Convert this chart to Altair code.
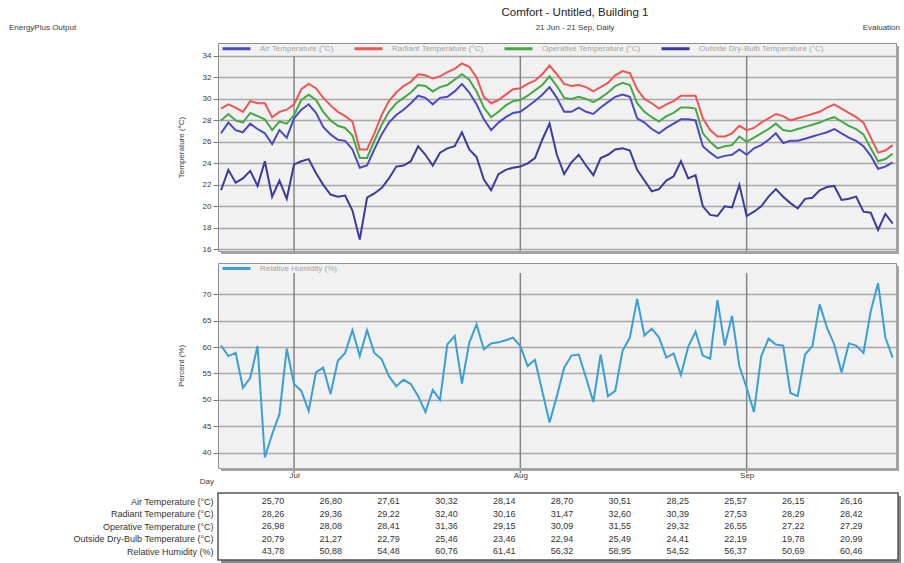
import altair as alt
import pandas as pd

# ---------------- data ----------------
dates = pd.date_range("2023-06-21", "2023-09-21", freq="D").strftime("%Y-%m-%d").tolist()

air_temp = [
    26.8, 27.8, 27.1, 26.9, 27.7, 27.2, 26.8, 25.8, 27.1, 26.4,
    28.2, 29.0, 29.5, 28.7, 27.4, 26.7, 26.2, 26.1, 25.3, 23.6,
    23.8, 25.3, 26.7, 27.8, 28.5, 29.0, 29.6, 30.3, 30.1, 29.5,
    30.1, 30.2, 30.7, 31.4, 30.6, 29.5, 28.1, 27.1, 27.8, 28.3,
    28.7, 28.8, 29.3, 29.8, 30.4, 31.1, 30.1, 28.8, 28.8, 29.2,
    28.8, 28.6, 29.2, 29.7, 30.2, 30.4, 30.2, 28.2, 27.8, 27.2,
    26.8, 27.3, 27.7, 28.1, 28.1, 28.0, 25.6, 25.0, 24.5, 24.7,
    24.8, 25.3, 24.8, 25.4, 25.7, 26.2, 26.8, 25.9, 26.1, 26.1,
    26.3, 26.5, 26.7, 26.9, 27.2, 26.8, 26.4, 26.1, 25.6, 24.7,
    23.5, 23.7, 24.1]

radiant_temp = [
    29.1, 29.5, 29.2, 28.8, 29.8, 29.6, 29.6, 28.3, 28.8, 29.0,
    29.5, 30.9, 31.4, 31.0, 30.1, 29.4, 28.8, 28.4, 27.9, 25.3,
    25.3, 26.8, 28.5, 29.8, 30.6, 31.2, 31.6, 32.3, 32.2, 31.9,
    32.1, 32.5, 32.8, 33.3, 33.0, 32.0, 30.2, 29.6, 29.9, 30.4,
    30.9, 31.0, 31.4, 31.7, 32.3, 33.1, 32.3, 31.4, 31.2, 31.3,
    31.1, 30.7, 31.1, 31.5, 32.2, 32.6, 32.4, 30.9, 30.0, 29.6,
    29.1, 29.5, 29.8, 30.3, 30.3, 30.3, 28.2, 27.1, 26.5, 26.5,
    26.8, 27.5, 27.1, 27.3, 27.8, 28.2, 28.6, 28.4, 28.0, 28.2,
    28.4, 28.6, 28.8, 29.2, 29.5, 29.1, 28.7, 28.3, 27.8, 26.4,
    25.0, 25.2, 25.7]

operative_temp = [
    28.0, 28.6, 28.0, 27.8, 28.7, 28.4, 28.1, 27.1, 27.9, 27.7,
    28.5, 29.9, 30.4, 29.9, 28.8, 28.0, 27.5, 27.3, 26.6, 24.5,
    24.5, 26.1, 27.6, 28.8, 29.6, 30.1, 30.6, 31.3, 31.2, 30.7,
    31.1, 31.3, 31.8, 32.3, 31.8, 30.7, 29.2, 28.3, 28.8, 29.4,
    29.8, 29.9, 30.3, 30.8, 31.3, 32.1, 31.2, 30.1, 30.0, 30.2,
    30.0, 29.7, 30.1, 30.6, 31.2, 31.5, 31.3, 29.6, 28.8, 28.3,
    27.9, 28.4, 28.7, 29.2, 29.2, 29.1, 26.8, 26.0, 25.4, 25.6,
    25.7, 26.5, 26.0, 26.4, 26.8, 27.2, 27.7, 27.1, 27.0, 27.2,
    27.4, 27.6, 27.8, 28.1, 28.3, 27.9, 27.5, 27.2, 26.7, 25.4,
    24.2, 24.4, 24.9]

outside_temp = [
    21.5, 23.4, 22.2, 22.6, 23.3, 21.9, 24.2, 20.9, 22.4, 20.7,
    23.9, 24.2, 24.4, 23.1, 22.0, 21.1, 20.9, 21.0, 19.6, 16.9,
    20.8, 21.2, 21.7, 22.6, 23.7, 23.8, 24.2, 25.6, 24.8, 23.8,
    25.0, 25.4, 25.6, 26.9, 25.3, 24.6, 22.5, 21.5, 23.0, 23.4,
    23.6, 23.7, 24.0, 24.5, 26.2, 27.7, 24.8, 23.0, 24.1, 24.8,
    23.8, 22.9, 24.5, 24.8, 25.3, 25.4, 25.2, 23.4, 22.4, 21.4,
    21.6, 22.4, 22.8, 24.2, 22.6, 22.9, 20.0, 19.2, 19.1, 20.0,
    19.9, 22.0, 19.1, 19.5, 20.0, 20.9, 21.6, 20.9, 20.3, 19.8,
    20.7, 20.8, 21.5, 21.8, 21.9, 20.6, 20.7, 20.9, 19.5, 19.4,
    17.8, 19.3, 18.4]

rel_humidity = [
    60.3, 58.3, 58.9, 52.3, 54.2, 60.2, 39.1, 43.5, 47.3, 59.7,
    53.0, 51.7, 47.9, 55.2, 56.1, 51.1, 57.4, 58.9, 63.2, 58.3,
    63.2, 58.9, 57.7, 54.5, 52.6, 53.8, 53.0, 50.7, 47.7, 51.9,
    50.0, 60.5, 62.1, 53.1, 60.8, 64.3, 59.6, 60.7, 60.9, 61.3,
    61.8, 60.2, 56.4, 57.6, 51.7, 45.7, 50.7, 56.1, 58.4, 58.6,
    54.2, 49.6, 58.6, 50.7, 51.7, 59.3, 61.8, 69.1, 62.2, 63.5,
    61.8, 58.0, 58.8, 54.7, 60.1, 62.9, 58.4, 57.8, 68.9, 60.3,
    65.9, 56.4, 52.3, 47.7, 58.3, 61.6, 60.5, 60.3, 51.3, 50.7,
    58.6, 60.2, 68.1, 63.7, 60.5, 55.2, 60.7, 60.3, 58.9, 66.8,
    72.1, 61.8, 58.0]

temp_series = ["Air Temperature (°C)", "Radiant Temperature (°C)",
               "Operative Temperature (°C)", "Outside Dry-Bulb Temperature (°C)"]
temp_colors = ["#4a4ac4", "#ee5555", "#44a844", "#3b3b9e"]
rh_series = ["Relative Humidity (%)"]
rh_colors = ["#3b9fd4"]

temp_ticks = [16, 18, 20, 22, 24, 26, 28, 30, 32, 34]
rh_ticks = [40, 45, 50, 55, 60, 65, 70]

month_starts = ["2023-07-01", "2023-08-01", "2023-09-01"]
month_labels = ["Jul", "Aug", "Sep"]

title_text = ["Comfort - Untitled, Building 1"]
subtitle_text = ["21 Jun - 21 Sep, Daily"]
left_text = ["EnergyPlus Output"]
right_text = ["Evaluation"]
day_text = ["Day"]

table_rows = ["Air Temperature (°C)", "Radiant Temperature (°C)", "Operative Temperature (°C)",
              "Outside Dry-Bulb Temperature (°C)", "Relative Humidity (%)"]
table_air = ["25,70", "26,80", "27,61", "30,32", "28,14", "28,70", "30,51", "28,25", "25,57", "26,15", "26,16"]
table_radiant = ["28,26", "29,36", "29,22", "32,40", "30,16", "31,47", "32,60", "30,39", "27,53", "28,29", "28,42"]
table_operative = ["26,98", "28,08", "28,41", "31,36", "29,15", "30,09", "31,55", "29,32", "26,55", "27,22", "27,29"]
table_outside = ["20,79", "21,27", "22,79", "25,46", "23,46", "22,94", "25,49", "24,41", "22,19", "19,78", "20,99"]
table_rh = ["43,78", "50,88", "54,48", "60,76", "61,41", "56,32", "58,95", "54,52", "56,37", "50,69", "60,46"]

# ---------------- tables for the library ----------------
temp_df = pd.DataFrame({
    "date": dates * 4,
    "series": sum([[s] * len(dates) for s in temp_series], []),
    "value": air_temp + radiant_temp + operative_temp + outside_temp,
})
rh_df = pd.DataFrame({"date": dates, "series": rh_series[0], "value": rel_humidity})
month_df = pd.DataFrame({"date": month_starts, "label": month_labels})
tab_vals = [table_air, table_radiant, table_operative, table_outside, table_rh]
table_df = pd.DataFrame([
    {"row": r, "col": i, "val": v}
    for r, vals in zip(table_rows, tab_vals) for i, v in enumerate(vals)
])

FONT = "Liberation Sans"
W = 678
H_TOP = 208
H_BOT = 205
PLOT_BG = "#f0f1f0"
FRAME = "#8f8f8f"
SHADOW = "#a3a3a3"
GRID = "#a9a9a9"
MONTH = "#858585"
TXT = "#3a3a3a"

x_scale = alt.Scale(type="utc", domain=[
    alt.DateTime(year=2023, month=6, date=20, hours=14, utc=True),
    alt.DateTime(year=2023, month=9, date=21, hours=11, utc=True)])


def one(txt):
    return pd.DataFrame({"t": txt})


def shadow(w, y0, y1, color=SHADOW):
    base = alt.Chart(one(["s"]))
    bottom = base.mark_rule(color=color, strokeWidth=3).encode(
        x=alt.value(3), x2=alt.value(w + 2.5), y=alt.value(y1 + 1.5))
    right = base.mark_rule(color=color, strokeWidth=3).encode(
        x=alt.value(w + 1.5), y=alt.value(y0 + 3), y2=alt.value(y1 + 3))
    return [bottom, right]


def legend(x, y):
    return alt.Legend(orient="none", legendX=x, legendY=y, direction="horizontal", title=None,
                      symbolType="stroke", symbolSize=784, symbolStrokeWidth=3,
                      labelFontSize=8, labelColor="#a5a5a5", labelFont=FONT,
                      columnPadding=14, labelOffset=8, padding=2)


def yaxis(ticks, title):
    return alt.Axis(values=ticks, title=title, titleFontSize=8, titleFontWeight="normal",
                    titleColor=TXT, titleFont=FONT, labelFont=FONT, labelFontSize=8,
                    labelColor=TXT, tickSize=5, tickColor="#777", domain=False,
                    grid=True, gridColor=GRID, gridWidth=1.5, labelPadding=2, titlePadding=17)


# ---------------- top panel ----------------
top_lines = alt.Chart(temp_df).mark_line(strokeWidth=2).encode(
    x=alt.X("date:T", scale=x_scale, axis=None),
    y=alt.Y("value:Q", scale=alt.Scale(domain=[15.84, 35.21], nice=False, zero=False),
            axis=yaxis(temp_ticks, "Temperature (°C)")),
    color=alt.Color("series:N", scale=alt.Scale(domain=temp_series, range=temp_colors),
                    legend=legend(1, -12)),
)
top_rules = alt.Chart(month_df).mark_rule(color=MONTH, strokeWidth=1.5).encode(
    x=alt.X("date:T", scale=x_scale, axis=None), y=alt.value(13), y2=alt.value(H_TOP))

hdr = []
hdr.append(alt.Chart(one(title_text)).mark_text(fontSize=11.5, color="#222", font=FONT).encode(
    text="t:N", x=alt.value(W / 2 + 18), y=alt.value(-30)))
hdr.append(alt.Chart(one(subtitle_text)).mark_text(fontSize=8, color=TXT, font=FONT).encode(
    text="t:N", x=alt.value(W / 2 + 18), y=alt.value(-15)))
hdr.append(alt.Chart(one(left_text)).mark_text(fontSize=8, color=TXT, font=FONT, align="left").encode(
    text="t:N", x=alt.value(-209), y=alt.value(-15)))
hdr.append(alt.Chart(one(right_text)).mark_text(fontSize=8, color=TXT, font=FONT, align="right").encode(
    text="t:N", x=alt.value(W + 4), y=alt.value(-15)))

top = alt.layer(top_rules, top_lines, *shadow(W, 0, H_TOP), *hdr).properties(
    width=W, height=H_TOP, view=alt.ViewBackground(fill=PLOT_BG, stroke=FRAME, strokeWidth=1))

# ---------------- bottom panel ----------------
bot_lines = alt.Chart(rh_df).mark_line(strokeWidth=2).encode(
    x=alt.X("date:T", scale=x_scale, title=None,
            axis=alt.Axis(values=[alt.DateTime(year=2023, month=m, date=1, utc=True) for m in (7, 8, 9)],
                          format="%b", labelFontSize=8, labelColor=TXT, labelFont=FONT,
                          ticks=False, domain=False, grid=False, labelPadding=3, title=None)),
    y=alt.Y("value:Q", scale=alt.Scale(domain=[37.1, 75.93], nice=False, zero=False),
            axis=yaxis(rh_ticks, "Percent (%)")),
    color=alt.Color("series:N", scale=alt.Scale(domain=rh_series, range=rh_colors),
                    legend=legend(1, -12)),
)
bot_rules = alt.Chart(month_df).mark_rule(color=MONTH, strokeWidth=1.5).encode(
    x=alt.X("date:T", scale=x_scale, title=None), y=alt.value(10), y2=alt.value(H_BOT + 5))
day_lbl = alt.Chart(one(day_text)).mark_text(fontSize=8, color=TXT, font=FONT, align="right").encode(
    text="t:N", x=alt.value(-4), y=alt.value(H_BOT + 14))

bottom = alt.layer(bot_rules, bot_lines, *shadow(W, 0, H_BOT), day_lbl).properties(
    width=W, height=H_BOT, view=alt.ViewBackground(fill=PLOT_BG, stroke=FRAME, strokeWidth=1))

# ---------------- summary table ----------------
TW, TH = 680, 80
BOX_TOP = 13
box = alt.Chart(one(["b"])).mark_rect(fill="white", stroke="#555", strokeWidth=1.5).encode(
    x=alt.value(0), x2=alt.value(TW), y=alt.value(BOX_TOP), y2=alt.value(TH))
tab_text = alt.Chart(table_df).mark_text(fontSize=9, color="#333", font=FONT).encode(
    x=alt.X("col:Q", scale=alt.Scale(domain=[-0.95, 10.81], nice=False, zero=False), axis=None),
    y=alt.Y("row:N", sort=table_rows, scale=alt.Scale(type="point", range=[21, 71], padding=0),
            axis=alt.Axis(title=None, ticks=False, domain=False, grid=False, labelFontSize=9,
                          labelColor="#333", labelFont=FONT, labelPadding=5, labelLimit=400)),
    text="val:N",
)
table = alt.layer(*shadow(TW, BOX_TOP, TH, "#8a8a8a"), box, tab_text).properties(
    width=TW, height=TH, view=alt.ViewBackground(fill="white", stroke="transparent", strokeWidth=0))

chart = alt.vconcat(top, bottom, table, spacing=12, bounds="flush").resolve_scale(
    x="independent", y="independent", color="independent"
).resolve_legend(color="independent").properties(
    padding={"left": 8, "top": 6, "right": 2, "bottom": 0},
    background="white",
).configure(font=FONT)

chart.save("out.html", embed_options={"renderer": "svg", "actions": False})
